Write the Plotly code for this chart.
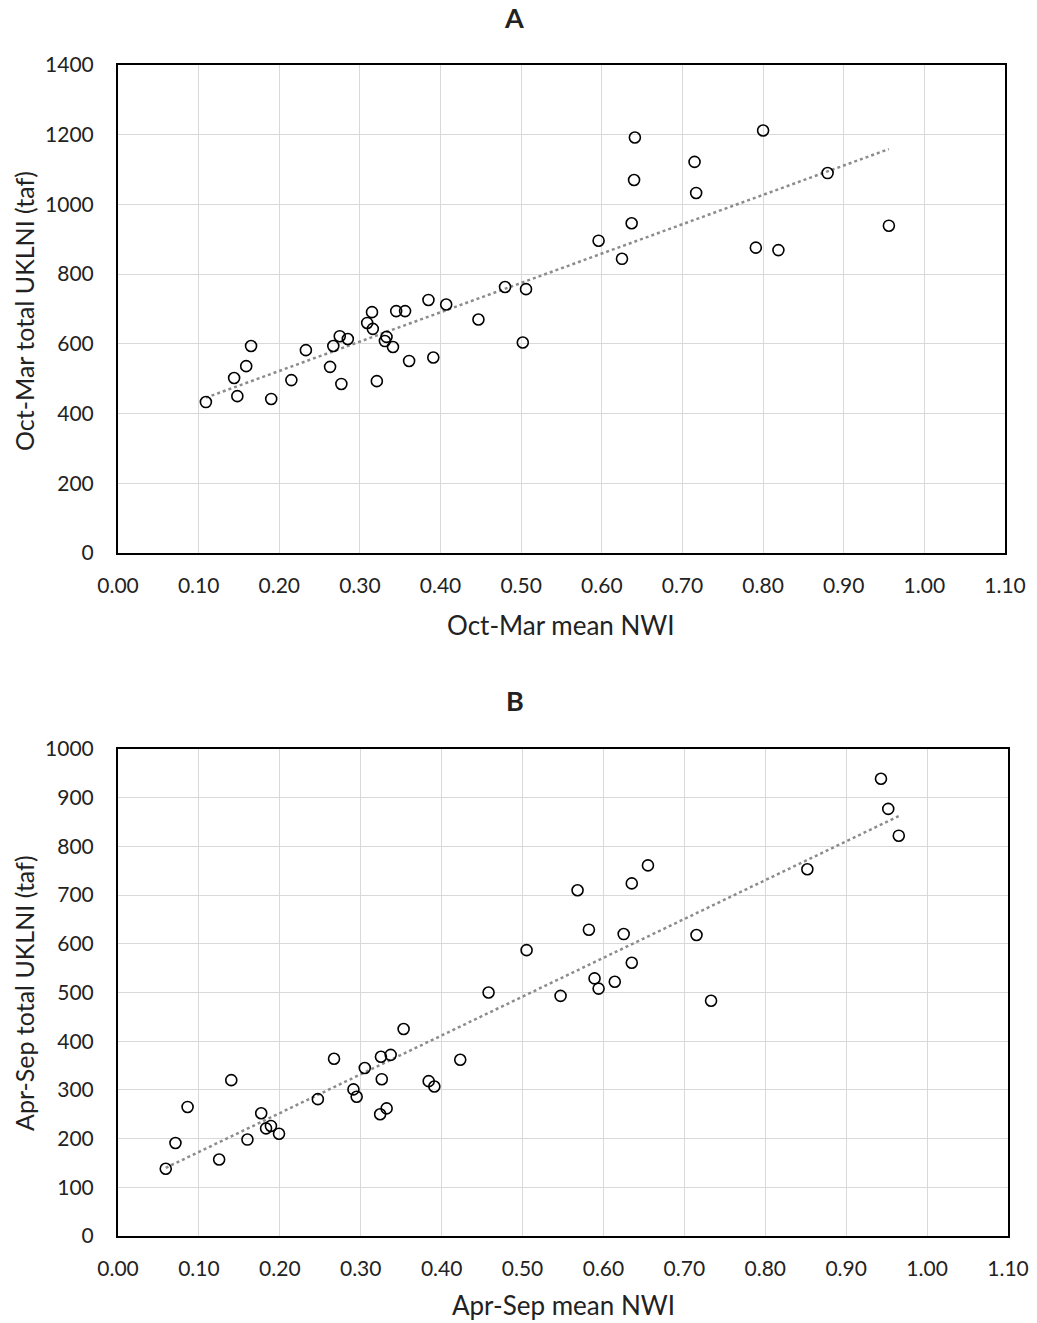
import numpy as np
import plotly.graph_objects as go

# Panel A: Oct-Mar
a_nwi = [0.109, 0.144, 0.148, 0.159, 0.165, 0.190, 0.215, 0.233, 0.263, 0.267,
         0.275, 0.277, 0.285, 0.309, 0.315, 0.316, 0.321, 0.333, 0.331, 0.341,
         0.345, 0.356, 0.361, 0.385, 0.391, 0.407, 0.447, 0.480, 0.502, 0.506,
         0.596, 0.625, 0.637, 0.640, 0.641, 0.715, 0.717, 0.791, 0.800, 0.819,
         0.880, 0.956]
a_ukl = [433, 502, 450, 536, 594, 442, 496, 582, 534, 594,
         622, 485, 614, 660, 691, 643, 493, 620, 608, 591,
         694, 694, 551, 726, 561, 713, 670, 763, 604, 757,
         896, 844, 946, 1070, 1192, 1122, 1033, 876, 1212, 869,
         1090, 939]

# Panel B: Apr-Sep
b_nwi = [0.059, 0.071, 0.086, 0.125, 0.140, 0.160, 0.177, 0.183, 0.189, 0.199,
         0.247, 0.267, 0.291, 0.295, 0.305, 0.325, 0.326, 0.324, 0.332, 0.337,
         0.353, 0.384, 0.391, 0.423,
         0.943, 0.952, 0.965, 0.852, 0.655, 0.635, 0.568, 0.582, 0.625, 0.715,
         0.505, 0.635, 0.589, 0.594, 0.614, 0.458, 0.547, 0.733]
b_ukl = [138, 191, 265, 157, 320, 198, 252, 221, 226, 210,
         281, 364, 301, 286, 345, 368, 322, 250, 262, 372,
         425, 318, 307, 362,
         939, 877, 822, 753, 761, 724, 710, 629, 620, 618,
         587, 561, 529, 508, 522, 500, 493, 483]

x_ticks = [round(0.1 * i, 2) for i in range(12)]
x_ticktext = [f"{v:.2f}" for v in x_ticks]
a_yticks = list(range(0, 1401, 200))
b_yticks = list(range(0, 1001, 100))

W, H = 1037, 1323
FONT = "Lato, Open Sans, sans-serif"

fig = go.Figure()

def add_panel(xs, ys, xa, ya):
    xs = np.array(xs); ys = np.array(ys)
    m, c = np.polyfit(xs, ys, 1)
    xl = np.array([xs.min(), xs.max()])
    fig.add_trace(go.Scatter(x=xl, y=m * xl + c, mode="lines",
                             line=dict(color="#8c8c8c", width=2.5, dash="dot"),
                             xaxis=xa, yaxis=ya, showlegend=False, hoverinfo="skip"))
    fig.add_trace(go.Scatter(x=xs, y=ys, mode="markers",
                             marker=dict(symbol="circle-open", size=11, color="black",
                                         line=dict(width=1.6, color="black")),
                             xaxis=xa, yaxis=ya, showlegend=False))

add_panel(a_nwi, a_ukl, "x", "y")
add_panel(b_nwi, b_ukl, "x2", "y2")

def px_dom_x(l, r):
    return [l / W, r / W]

def px_dom_y(top, bottom):
    return [1 - bottom / H, 1 - top / H]

tickfont = dict(family=FONT, size=21, color="#222")
common_x = dict(range=[0, 1.1], tickvals=x_ticks, ticktext=x_ticktext,
                showgrid=True, gridcolor="#d9d9d9", gridwidth=1,
                showline=True, linecolor="black", linewidth=2, mirror=True,
                ticks="outside", ticklen=13, tickcolor="rgba(0,0,0,0)",
                tickfont=tickfont, zeroline=False, fixedrange=True,
                automargin=False)
common_y = dict(showgrid=True, gridcolor="#d9d9d9", gridwidth=1,
                showline=True, linecolor="black", linewidth=2, mirror=True,
                ticks="outside", ticklen=18, tickcolor="rgba(0,0,0,0)",
                tickfont=tickfont, zeroline=False, fixedrange=True,
                automargin=False)

fig.update_layout(
    width=W, height=H,
    margin=dict(l=0, r=0, t=0, b=0, pad=0, autoexpand=False),
    paper_bgcolor="white", plot_bgcolor="white",
    xaxis=dict(domain=px_dom_x(118, 1005), anchor="y", **common_x),
    yaxis=dict(domain=px_dom_y(65, 553), anchor="x", range=[0, 1400],
               tickvals=a_yticks, **common_y),
    xaxis2=dict(domain=px_dom_x(118, 1008), anchor="y2", **common_x),
    yaxis2=dict(domain=px_dom_y(749, 1236), anchor="x2", range=[0, 1000],
                tickvals=b_yticks, **common_y),
)

def ann(text, x, y, size, bold=False, angle=0):
    fig.add_annotation(text=f"<b>{text}</b>" if bold else text,
                       x=x / W, y=1 - y / H, xref="paper", yref="paper",
                       showarrow=False, textangle=angle,
                       font=dict(family=FONT, size=size, color="#222"),
                       xanchor="center", yanchor="middle")

ann("A", 514, 17, 27, bold=True)
ann("B", 515, 701, 27, bold=True)
ann("Oct-Mar mean NWI", 561, 625, 26)
ann("Apr-Sep mean NWI", 563, 1305, 26)
ann("Oct-Mar total UKLNI (taf)", 24, 311, 25, angle=-90)
ann("Apr-Sep total UKLNI (taf)", 24, 993, 25, angle=-90)

fig.write_html("out.html")
